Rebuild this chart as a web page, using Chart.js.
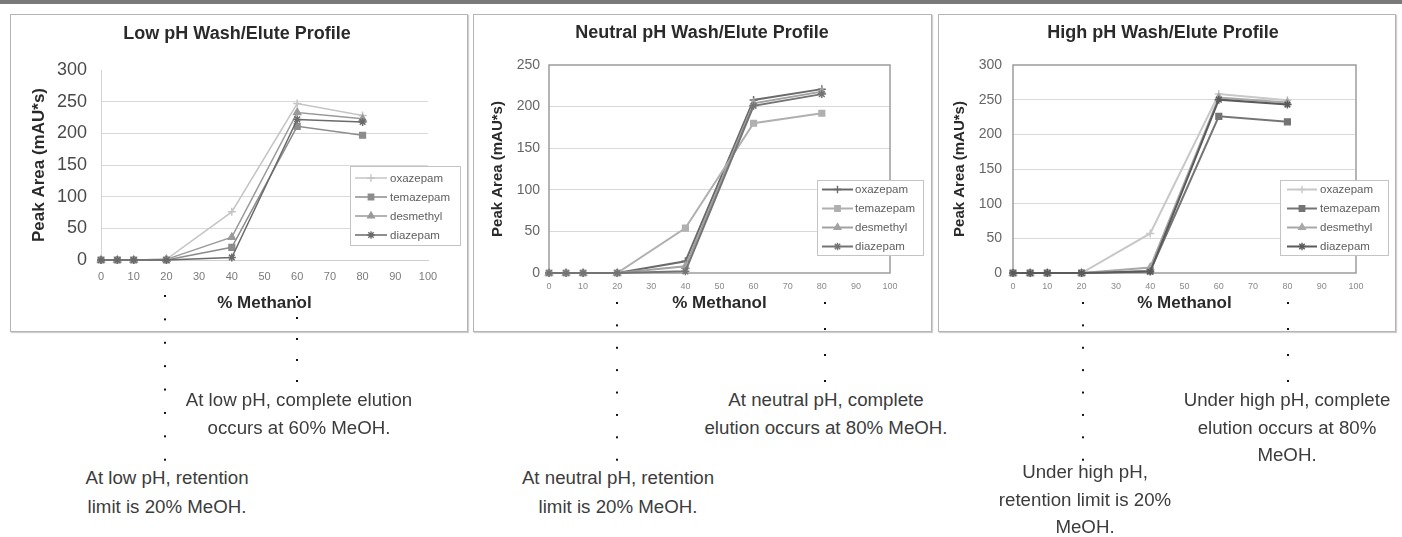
<!DOCTYPE html>
<html>
<head>
<meta charset="utf-8">
<script src="https://cdn.jsdelivr.net/npm/chart.js@4.4.1/dist/chart.umd.min.js"></script>
<style>
  html, body { margin: 0; padding: 0; background: #fff; }
  body { width: 1402px; height: 537px; position: relative; overflow: hidden;
         font-family: 'Liberation Sans', Arial, sans-serif; }
  .band { position: absolute; left: 0; top: 0; width: 1402px; height: 4px; background: #7a7a7a; }
  .panel { position: absolute; top: 14px; height: 318px; box-sizing: border-box;
           border: 1px solid #b4b4b4; box-shadow: 1px 1px 1px #d0d0d0; background: #fff; }
  canvas { position: absolute; }
  .dots { position: absolute; width: 2px;
          background-image: linear-gradient(to bottom, #111 0, #111 2px, transparent 2px);
          background-repeat: repeat-y; z-index: 5; }
  .note { position: absolute; width: 320px; text-align: center; color: #3c3c3c;
          font-size: 18.7px; line-height: 28px; z-index: 6; }
</style>
</head>
<body>
<div class="band"></div>
<div class="panel" style="left:10px;width:458px"></div>
<div class="panel" style="left:473px;width:459px"></div>
<div class="panel" style="left:938px;width:458px"></div>

<canvas id="lowChart" width="455" height="315" style="left:11px;top:15px"></canvas>
<canvas id="neutralChart" width="457" height="315" style="left:474px;top:15px"></canvas>
<canvas id="highChart" width="455" height="315" style="left:939px;top:15px"></canvas>

<!-- dotted pointer lines -->
<div class="dots" style="left:164px;top:295px;height:168px;background-size:2px 23.4px"></div>
<div class="dots" style="left:296px;top:296px;height:88px;background-size:2px 21px"></div>
<div class="dots" style="left:616px;top:302px;height:160px;background-size:2px 22.4px"></div>
<div class="dots" style="left:824px;top:302px;height:82px;background-size:2px 26px"></div>
<div class="dots" style="left:1082px;top:302px;height:160px;background-size:2px 22.4px"></div>
<div class="dots" style="left:1287px;top:302px;height:82px;background-size:2px 26px"></div>

<div class="note" style="left:139px;top:386px">At low pH, complete elution<br>occurs at 60% MeOH.</div>
<div class="note" style="left:7px;top:464px;line-height:28.5px">At low pH, retention<br>limit is 20% MeOH.</div>
<div class="note" style="left:458px;top:464px;line-height:28.5px">At neutral pH, retention<br>limit is 20% MeOH.</div>
<div class="note" style="left:666px;top:386px">At neutral pH, complete<br>elution occurs at 80% MeOH.</div>
<div class="note" style="left:925px;top:458px;line-height:27.5px">Under high pH,<br>retention limit is 20%<br>MeOH.</div>
<div class="note" style="left:1127px;top:386px;line-height:27.5px">Under high pH, complete<br>elution occurs at 80%<br>MeOH.</div>

<script>
// x values (% methanol) shared by all three profiles
const methanol = [0, 5, 10, 20, 40, 60, 80];
const compounds = ['oxazepam', 'temazepam', 'desmethyl', 'diazepam'];

// low pH peak areas
const lowOxazepam  = [0, 0, 0, 1, 76, 247, 228];
const lowTemazepam = [0, 0, 0, 0, 20, 211, 197];
const lowDesmethyl = [0, 0, 0, 1, 36, 233, 223];
const lowDiazepam  = [0, 0, 0, 0, 4, 222, 218];

// neutral pH peak areas
const neutralOxazepam  = [0, 0, 0, 0, 14, 208, 221];
const neutralTemazepam = [0, 0, 0, 0, 54, 180, 192];
const neutralDesmethyl = [0, 0, 0, 0, 8, 204, 218];
const neutralDiazepam  = [0, 0, 0, 0, 2, 201, 215];

// high pH peak areas
const highOxazepam  = [0, 0, 0, 0, 57, 258, 249];
const highTemazepam = [0, 0, 0, 0, 3, 226, 218];
const highDesmethyl = [0, 0, 0, 0, 8, 253, 246];
const highDiazepam  = [0, 0, 0, 0, 2, 250, 243];

const markers = ['cross', 'rect', 'triangle', 'star'];

Chart.defaults.font.family = "'Liberation Sans', Arial, sans-serif";

// title centred on the whole canvas (the built-in one ignores the right padding)
const headTitle = {
  id: 'headTitle',
  afterDraw(chart, args, o) {
    const ctx = chart.ctx;
    ctx.save();
    ctx.font = "bold 18px 'Liberation Sans', Arial, sans-serif";
    ctx.fillStyle = '#2a2a2a';
    ctx.textAlign = 'center';
    ctx.textBaseline = 'middle';
    ctx.fillText(o.text, o.x, o.y);
    ctx.restore();
  }
};

// legend drawn inside the plot, like the Excel original
const insideLegend = {
  id: 'insideLegend',
  afterDatasetsDraw(chart, args, o) {
    if (!o || !o.w) return;
    const ctx = chart.ctx;
    ctx.save();
    ctx.fillStyle = '#fff';
    ctx.fillRect(o.x, o.y, o.w, o.h);
    ctx.strokeStyle = '#c4c4c4';
    ctx.lineWidth = 1;
    ctx.strokeRect(o.x + 0.5, o.y + 0.5, o.w, o.h);
    ctx.font = o.size + "px 'Liberation Sans', Arial, sans-serif";
    ctx.textBaseline = 'middle';
    chart.data.datasets.forEach((ds, i) => {
      const y = o.y + o.top + i * o.gap;
      ctx.strokeStyle = ds.borderColor;
      ctx.fillStyle = ds.borderColor;
      ctx.lineWidth = ds.borderWidth;
      ctx.beginPath();
      ctx.moveTo(o.x + o.l0, y);
      ctx.lineTo(o.x + o.l1, y);
      ctx.stroke();
      ctx.lineWidth = 1.4;
      Chart.helpers.drawPoint(ctx, {pointStyle: ds.pointStyle, radius: 3.8, borderWidth: 1.4, rotation: 0},
        o.x + (o.l0 + o.l1) / 2, y);
      ctx.fillStyle = '#5e5e5e';
      ctx.fillText(ds.label, o.x + o.tx, y + 0.5);
    });
    ctx.restore();
  }
};

// grey frame round the plot area (neutral & high charts)
const plotFrame = {
  id: 'plotFrame',
  beforeDatasetsDraw(chart, args, o) {
    if (!o || !o.show) return;
    const a = chart.chartArea, ctx = chart.ctx;
    ctx.save();
    ctx.strokeStyle = '#9c9c9c';
    ctx.lineWidth = 1.5;
    ctx.strokeRect(a.left, a.top, a.right - a.left, a.bottom - a.top);
    ctx.restore();
  }
};

function makeSets(series, colors, width) {
  return series.map((vals, i) => ({
    label: compounds[i],
    data: methanol.map((x, j) => ({x: x, y: vals[j]})),
    borderColor: colors[i],
    backgroundColor: colors[i],
    borderWidth: width,
    pointStyle: markers[i],
    pointRadius: 4,
    pointBorderWidth: 1.5,
    tension: 0,
    clip: false,
    order: series.length - i   // later series on top, as in Excel
  }));
}

function makeChart(id, c) {
  new Chart(document.getElementById(id), {
    type: 'line',
    data: { datasets: makeSets(c.series, c.colors, c.lineWidth) },
    plugins: [insideLegend, plotFrame, headTitle],
    options: {
      responsive: false,
      animation: false,
      layout: { padding: { left: 0, right: c.padRight, top: c.padTop, bottom: 0 } },
      plugins: {
        legend: { display: false },
        tooltip: { enabled: false },
        title: { display: false },
        headTitle: c.head,
        insideLegend: c.legend,
        plotFrame: { show: c.frame }
      },
      scales: {
        x: {
          type: 'linear', min: 0, max: 100,
          afterFit: s => { s.height = c.xHeight; },
          ticks: { stepSize: 10, padding: c.xTickPad, color: c.xTickColor, font: { size: c.xTickSize } },
          grid: { display: false, drawTicks: false },
          border: { display: !c.frame, color: '#cfcfcf' },
          title: { display: true, text: '% Methanol', color: '#2a2a2a',
                   font: { size: 17, weight: 'bold' }, padding: { top: 0, bottom: 16.8 } }
        },
        y: {
          min: 0, max: c.yMax,
          afterFit: s => { s.width = c.yWidth; },
          ticks: { stepSize: 50, padding: c.yTickPad, color: c.yTickColor, font: { size: c.yTickSize } },
          grid: { drawTicks: false, color: ctx => ctx.tick.value === c.yMax || ctx.tick.value === 0 ? 'rgba(0,0,0,0)' : '#d9d9d9' },
          border: { display: !c.frame, color: '#d4d4d4' },
          title: { display: true, text: 'Peak Area (mAU*s)', color: '#2a2a2a',
                   font: { size: c.yTitleSize, weight: 'bold' }, padding: { top: c.yTitlePad, bottom: 0 } }
        }
      }
    }
  });
}

makeChart('lowChart', {
  head: { text: 'Low pH Wash/Elute Profile', x: 226, y: 19 },
  series: [lowOxazepam, lowTemazepam, lowDesmethyl, lowDiazepam],
  colors: ['#c4c4c4', '#8c8c8c', '#9a9a9a', '#6a6a6a'],
  lineWidth: 1.5, yMax: 300, frame: false,
  padRight: 38, padTop: 55,
  xHeight: 70, yWidth: 90,
  xTickPad: 10, xTickSize: 11, xTickColor: '#7a7a7a',
  yTickPad: 14, yTickSize: 18, yTickColor: '#4a4a4a',
  yTitleSize: 17, yTitlePad: 17.8,
  legend: { x: 339, y: 151, w: 110, h: 79, top: 12, gap: 19, l0: 5, l1: 37, tx: 40, size: 11.5 }
});

makeChart('neutralChart', {
  head: { text: 'Neutral pH Wash/Elute Profile', x: 228, y: 18 },
  series: [neutralOxazepam, neutralTemazepam, neutralDesmethyl, neutralDiazepam],
  colors: ['#6a6a6a', '#b0b0b0', '#a2a2a2', '#747474'],
  lineWidth: 2, yMax: 250, frame: true,
  padRight: 41, padTop: 50,
  xHeight: 57, yWidth: 75,
  xTickPad: 8, xTickSize: 9, xTickColor: '#8a8a8a',
  yTickPad: 9, yTickSize: 14, yTickColor: '#666',
  yTitleSize: 15, yTitlePad: 15,
  legend: { x: 343, y: 165, w: 106, h: 75, top: 9.5, gap: 19, l0: 5, l1: 36, tx: 38, size: 11.5 }
});

makeChart('highChart', {
  head: { text: 'High pH Wash/Elute Profile', x: 224, y: 18 },
  series: [highOxazepam, highTemazepam, highDesmethyl, highDiazepam],
  colors: ['#c8c8c8', '#747474', '#a8a8a8', '#5a5a5a'],
  lineWidth: 2, yMax: 300, frame: true,
  padRight: 38, padTop: 50,
  xHeight: 57, yWidth: 74,
  xTickPad: 8, xTickSize: 9, xTickColor: '#8a8a8a',
  yTickPad: 11, yTickSize: 14, yTickColor: '#666',
  yTitleSize: 15, yTitlePad: 12,
  legend: { x: 341, y: 165, w: 108, h: 75, top: 9.5, gap: 19, l0: 7, l1: 37, tx: 40, size: 11.5 }
});
</script>
</body>
</html>
